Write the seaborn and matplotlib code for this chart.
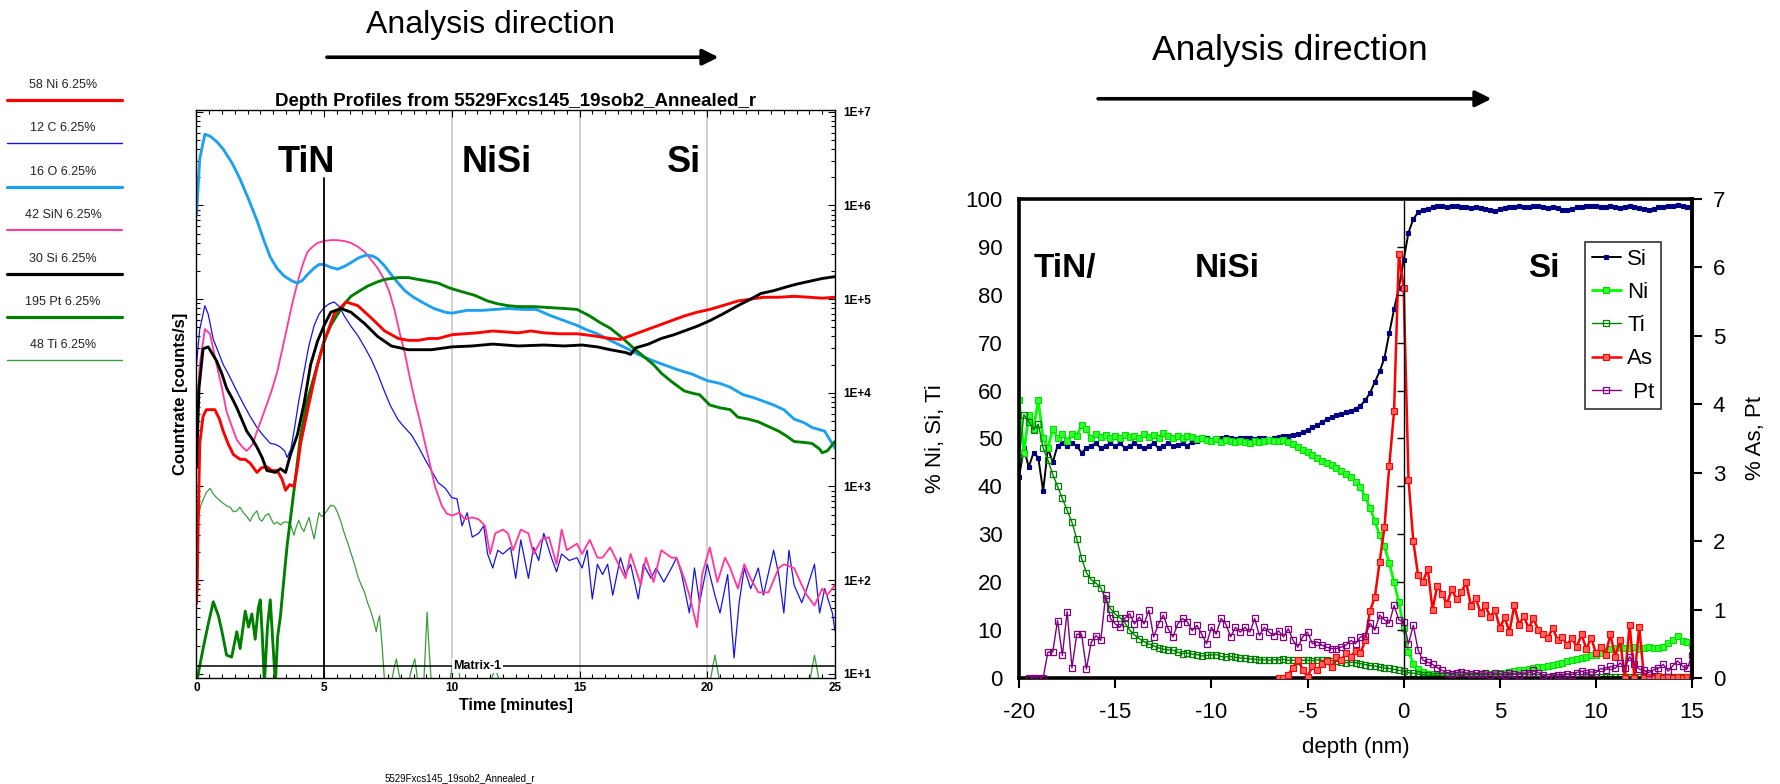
import numpy as np
import matplotlib
matplotlib.use("Agg")
import matplotlib.pyplot as plt
import seaborn as sns
from matplotlib import font_manager
from matplotlib.lines import Line2D
from matplotlib.patches import FancyArrowPatch
from matplotlib.ticker import MultipleLocator, LogLocator, NullFormatter

# ================= LEFT PANEL: SIMS depth profile =================
# time [minutes] and log10(countrate [counts/s])
O_t = [0, 0.13, 0.33, 0.53, 0.8, 1.05, 1.4, 1.71, 2.05, 2.37, 2.65, 2.89, 3.15, 3.42, 3.7,
       3.95, 4.15, 4.34, 4.6, 4.8, 5.0, 5.25, 5.53, 5.8, 6.05, 6.35, 6.64, 6.9, 7.1, 7.35,
       7.63, 7.9, 8.16, 8.5, 8.95, 9.3, 9.74, 10.0, 10.6, 11.2, 11.7, 12.2, 12.8, 13.3, 13.9,
       14.4, 14.9, 15.3, 15.7, 16.2, 16.8, 17.3, 17.8, 18.3, 18.8, 19.4, 20.0, 20.5, 20.9, 21.4,
       21.8, 22.2, 22.6, 23.0, 23.4, 23.8, 24.1, 24.6, 25.0]
O_log = [5.89, 6.5, 6.76, 6.74, 6.68, 6.6, 6.45, 6.28, 6.06, 5.84, 5.62, 5.45, 5.33, 5.25, 5.2,
         5.17, 5.2, 5.26, 5.33, 5.37, 5.37, 5.34, 5.32, 5.35, 5.39, 5.44, 5.47, 5.46, 5.43, 5.36,
         5.26, 5.17, 5.09, 5.02, 4.95, 4.9, 4.86, 4.85, 4.88, 4.88, 4.89, 4.9, 4.89, 4.89, 4.82,
         4.77, 4.72, 4.67, 4.63, 4.56, 4.48, 4.41, 4.35, 4.3, 4.25, 4.2, 4.13, 4.1, 4.06, 3.98,
         3.95, 3.91, 3.87, 3.82, 3.72, 3.68, 3.63, 3.59, 3.41]

Pt_t = [0, 0.26, 0.46, 0.66, 0.86, 1.0, 1.18, 1.38, 1.58, 1.71, 1.91, 2.04, 2.17, 2.3, 2.42,
        2.5, 2.58, 2.66, 2.78, 2.89, 3.0, 3.09, 3.18, 3.29, 3.42, 3.55, 3.82, 4.08, 4.34, 4.74,
        5.0, 5.26, 5.53, 5.8, 6.05, 6.4, 6.71, 7.05, 7.37, 7.9, 8.3, 8.68, 9.1, 9.47, 9.9,
        10.26, 10.9, 11.4, 11.8, 12.2, 12.6, 13.2, 13.8, 14.4, 14.9, 15.4, 15.8, 16.2, 16.7, 17.1,
        17.5, 17.9, 18.2, 18.6, 19.1, 19.5, 19.7, 20.1, 20.5, 20.9, 21.2, 21.6, 22.0, 22.4, 22.8,
        23.1, 23.4, 23.8, 24.1, 24.4, 24.5, 24.7, 25.0]
Pt_log = [0.9, 1.27, 1.53, 1.77, 1.62, 1.45, 1.2, 1.18, 1.45, 1.27, 1.67, 1.5, 1.64, 1.37, 1.7,
          1.79, 1.4, 0.9, 1.5, 1.79, 1.3, 0.9, 1.4, 1.62, 2.0, 2.37, 2.96, 3.55, 3.92, 4.3,
          4.55, 4.72, 4.84, 4.95, 5.03, 5.09, 5.14, 5.18, 5.21, 5.23, 5.23, 5.21, 5.19, 5.17, 5.12,
          5.09, 5.04, 4.98, 4.95, 4.93, 4.92, 4.92, 4.91, 4.9, 4.89, 4.82, 4.75, 4.69, 4.58, 4.48,
          4.39, 4.3, 4.21, 4.12, 4.02, 3.99, 3.98, 3.87, 3.84, 3.82, 3.74, 3.72, 3.69, 3.64, 3.59,
          3.54, 3.48, 3.47, 3.46, 3.4, 3.36, 3.38, 3.48]

Ni_t = [0.0, 0.03, 0.07, 0.13, 0.26, 0.39, 0.72, 0.9, 1.05, 1.25, 1.45, 1.71, 1.9, 2.1, 2.37,
        2.55, 2.76, 2.95, 3.16, 3.35, 3.49, 3.65, 3.82, 3.95, 4.08, 4.34, 4.74, 5.0, 5.39, 5.86,
        6.32, 6.84, 7.37, 7.9, 8.3, 8.68, 9.1, 9.47, 10.0, 10.5, 11.0, 11.6, 12.1, 12.6, 13.1,
        13.6, 14.2, 14.9, 15.5, 16.2, 16.6, 17.0, 17.5, 18.0, 18.5, 19.1, 19.6, 20.1, 20.6, 21.2,
        21.7, 22.2, 22.8, 23.4, 24.0, 24.5, 25.0]
Ni_log = [1.75, 1.95, 2.62, 3.46, 3.75, 3.82, 3.82, 3.72, 3.59, 3.45, 3.34, 3.29, 3.29, 3.25, 3.15,
          3.2, 3.21, 3.17, 3.17, 3.08, 2.96, 3.02, 3.0, 3.2, 3.46, 3.8, 4.3, 4.55, 4.84, 4.97,
          4.93, 4.8, 4.66, 4.58, 4.56, 4.56, 4.58, 4.58, 4.62, 4.63, 4.64, 4.66, 4.65, 4.64, 4.66,
          4.64, 4.63, 4.63, 4.61, 4.58, 4.57, 4.61, 4.66, 4.71, 4.76, 4.82, 4.86, 4.89, 4.93, 4.98,
          5.0, 5.02, 5.02, 5.03, 5.02, 5.01, 5.02]

Si_t = [0.0, 0.03, 0.1, 0.26, 0.46, 0.79, 1.0, 1.18, 1.4, 1.58, 1.8, 1.97, 2.2, 2.37, 2.57,
        2.76, 2.95, 3.09, 3.29, 3.49, 3.68, 3.95, 4.21, 4.47, 4.74, 5.0, 5.26, 5.66, 6.05, 6.58,
        7.1, 7.63, 8.29, 9.21, 10.0, 10.8, 11.6, 12.6, 13.6, 14.4, 15.1, 15.7, 16.2, 16.8, 17.0,
        17.2, 17.7, 18.2, 18.7, 19.1, 19.6, 20.1, 20.6, 21.2, 21.7, 22.1, 22.6, 23.1, 23.5, 24.0,
        24.5, 25.0]
Si_log = [3.2, 3.46, 4.05, 4.47, 4.49, 4.34, 4.2, 4.05, 3.94, 3.84, 3.7, 3.59, 3.5, 3.42, 3.31,
          3.17, 3.16, 3.15, 3.19, 3.15, 3.34, 3.55, 3.88, 4.3, 4.55, 4.72, 4.86, 4.9, 4.86, 4.74,
          4.6, 4.5, 4.46, 4.46, 4.49, 4.5, 4.52, 4.5, 4.51, 4.5, 4.51, 4.49, 4.46, 4.43, 4.41,
          4.48, 4.52, 4.58, 4.62, 4.66, 4.71, 4.77, 4.84, 4.93, 5.0, 5.06, 5.09, 5.13, 5.16, 5.19,
          5.22, 5.24]

C_t = [0.0, 0.13, 0.33, 0.46, 0.66, 0.85, 1.05, 1.25, 1.45, 1.65, 1.84, 2.1, 2.37, 2.6, 2.89,
       3.1, 3.29, 3.45, 3.55, 3.7, 3.82, 4.0, 4.21, 4.4, 4.61, 4.8, 5.0, 5.2, 5.39, 5.6,
       5.79, 6.05, 6.32, 6.6, 6.84, 7.1, 7.37, 7.6, 7.9, 8.15, 8.42, 8.7, 8.95, 9.2, 9.47,
       9.75, 10.0, 10.2, 10.4, 10.6, 10.8, 11.05, 11.25, 11.4, 11.6, 11.8, 12.0, 12.3, 12.5, 12.7,
       13.0, 13.2, 13.4, 13.6, 13.9, 14.1, 14.3, 14.6, 14.9, 15.1, 15.3, 15.5, 15.7, 15.9, 16.1,
       16.3, 16.6, 16.8, 17.0, 17.3, 17.5, 17.8, 18.0, 18.3, 18.6, 18.8, 19.0, 19.3, 19.5, 19.7,
       20.0, 20.3, 20.5, 20.8, 21.05, 21.25, 21.45, 21.7, 22.0, 22.2, 22.6, 22.8, 23.0, 23.2, 23.4,
       23.7, 23.9, 24.2, 24.4, 24.6, 24.9, 25.0]
C_log = [4.3, 4.68, 4.93, 4.84, 4.57, 4.44, 4.3, 4.2, 4.09, 3.98, 3.88, 3.75, 3.63, 3.55, 3.46,
         3.45, 3.42, 3.38, 3.31, 3.4, 3.59, 3.9, 4.22, 4.5, 4.72, 4.84, 4.91, 4.95, 4.97, 4.92,
         4.82, 4.71, 4.61, 4.48, 4.36, 4.2, 4.01, 3.86, 3.71, 3.63, 3.55, 3.42, 3.29, 3.17, 3.04,
         2.98, 2.88, 2.87, 2.58, 2.72, 2.46, 2.5, 2.58, 2.28, 2.13, 2.32, 2.28, 2.35, 2.02, 2.43,
         2.02, 2.35, 2.21, 2.5, 2.24, 2.09, 2.28, 2.21, 2.24, 2.13, 2.32, 1.8, 2.17, 2.06, 2.17,
         1.84, 2.24, 2.06, 2.17, 1.8, 2.17, 2.02, 2.13, 1.98, 2.13, 2.24, 2.06, 1.65, 2.13, 1.76,
         2.17, 1.84, 1.65, 2.06, 1.17, 1.76, 2.13, 1.91, 2.13, 1.84, 2.32, 2.06, 1.65, 2.32, 1.95,
         1.76, 1.91, 2.17, 1.65, 1.91, 1.65, 1.46]

SiN_t = [0.03, 0.13, 0.33, 0.53, 0.79, 1.0, 1.18, 1.4, 1.58, 1.8, 1.97, 2.2, 2.37, 2.55, 2.76,
         2.95, 3.16, 3.35, 3.55, 3.75, 3.95, 4.15, 4.34, 4.55, 4.74, 5.0, 5.26, 5.5, 5.79, 6.05,
         6.32, 6.6, 6.84, 7.1, 7.37, 7.55, 7.76, 7.95, 8.16, 8.35, 8.55, 8.75, 8.95, 9.15, 9.34,
         9.6, 9.8, 10.0, 10.3, 10.5, 10.8, 11.05, 11.3, 11.5, 11.7, 12.0, 12.2, 12.4, 12.7, 13.0,
         13.2, 13.5, 13.8, 14.1, 14.3, 14.5, 14.9, 15.1, 15.4, 15.7, 15.9, 16.2, 16.4, 16.8, 17.0,
         17.4, 17.6, 17.9, 18.2, 18.6, 18.8, 19.1, 19.3, 19.6, 19.8, 20.1, 20.4, 20.7, 20.9, 21.2,
         21.45, 21.7, 22.0, 22.4, 22.8, 23.0, 23.4, 23.7, 23.9, 24.2, 24.5, 24.7, 25.0]
SiN_log = [3.88, 4.3, 4.68, 4.63, 4.3, 4.05, 3.8, 3.63, 3.5, 3.42, 3.38, 3.45, 3.59, 3.72, 3.88,
           4.03, 4.22, 4.45, 4.7, 4.95, 5.17, 5.36, 5.5, 5.56, 5.6, 5.62, 5.63, 5.63, 5.62, 5.6,
           5.56, 5.5, 5.42, 5.33, 5.2, 5.08, 4.88, 4.65, 4.42, 4.17, 3.92, 3.7, 3.46, 3.23, 3.0,
           2.8, 2.71, 2.69, 2.72, 2.65, 2.67, 2.65, 2.58, 2.28, 2.5, 2.54, 2.5, 2.32, 2.54, 2.5,
           2.28, 2.43, 2.46, 2.17, 2.54, 2.32, 2.39, 2.28, 2.43, 2.24, 2.24, 2.35, 2.24, 2.02, 2.28,
           1.95, 2.24, 1.98, 2.32, 2.24, 2.24, 2.02, 1.84, 1.5, 2.06, 2.35, 1.98, 2.24, 2.13, 1.91,
           2.17, 2.02, 1.87, 1.87, 2.13, 2.17, 2.13, 1.95, 1.84, 1.73, 1.91, 1.84, 1.95]

Ti_t = [0.05, 0.15, 0.26, 0.4, 0.53, 0.66, 0.79, 0.92, 1.05, 1.2, 1.32, 1.45, 1.58, 1.7, 1.84,
        1.97, 2.1, 2.23, 2.37, 2.47, 2.57, 2.7, 2.83, 2.93, 3.03, 3.16, 3.29, 3.42, 3.55, 3.68,
        3.82, 3.92, 4.01, 4.11, 4.21, 4.31, 4.41, 4.51, 4.61, 4.7, 4.8, 4.9, 5.0, 5.13, 5.26,
        5.4, 5.53, 5.66, 5.79, 5.92, 6.05, 6.2, 6.32, 6.45, 6.58, 6.7, 6.84, 6.95, 7.04, 7.1,
        7.17, 7.27, 7.37, 7.5, 7.63, 7.73, 7.83, 7.93, 8.03, 8.3, 8.42, 8.55, 8.68, 8.9, 8.97,
        9.03, 9.1, 9.2, 9.9, 10.07, 10.2, 10.35, 11.5, 11.7, 11.9, 20.1, 20.3, 20.5, 24.0, 24.2,
        24.4, 25.0]
Ti_log = [2.6, 2.78, 2.86, 2.94, 2.98, 2.92, 2.88, 2.85, 2.82, 2.79, 2.78, 2.73, 2.74, 2.78, 2.72,
          2.68, 2.63, 2.7, 2.74, 2.65, 2.63, 2.69, 2.71, 2.65, 2.6, 2.62, 2.59, 2.62, 2.62, 2.6,
          2.48, 2.58, 2.64, 2.56, 2.52, 2.6, 2.67, 2.55, 2.44, 2.58, 2.72, 2.68, 2.7, 2.75, 2.8,
          2.79, 2.72, 2.62, 2.5, 2.4, 2.29, 2.16, 2.04, 1.95, 1.87, 1.76, 1.66, 1.55, 1.45, 1.55,
          1.62, 1.3, 0.9, 0.9, 0.9, 1.05, 1.16, 1.0, 0.9, 0.9, 1.05, 1.16, 0.9, 0.9, 1.3,
          1.66, 1.3, 0.9, 0.9, 1.16, 1.16, 0.9, 0.9, 1.06, 0.9, 0.9, 1.2, 0.9, 0.9, 1.2,
          0.9, 0.9]

left_labels = ["58 Ni 6.25%", "12 C 6.25%", "16 O 6.25%", "42 SiN 6.25%",
               "30 Si 6.25%", "195 Pt 6.25%", "48 Ti 6.25%"]
left_colors = ["#FF0000", "#1414E6", "#1EA0F0", "#FF3C9E", "#000000", "#008000", "#3A9E3A"]
left_widths = [2.3, 1.0, 2.3, 1.5, 2.3, 2.3, 1.0]
region_labels_left = ["TiN", "NiSi", "Si"]
region_pos_left = [4.3, 11.75, 19.1]
left_decades = [1, 2, 3, 4, 5, 6, 7]
left_xticks = [0, 5, 10, 15, 20, 25]
matrix_level = 12.2

# ================= RIGHT PANEL: atom-probe composition =================
STEP = 0.25  # nm between successive measured points
Si_start = -20.0
Si_pct = [42, 48, 44, 47, 46, 39, 48, 45,
          48.5, 49, 48.5, 49, 48.5, 47, 48, 48.5,
          49, 48, 48.5, 49, 48.5, 49, 48, 48.5,
          49, 48.5, 48, 48.5, 49, 48, 48.5, 49,
          48.5, 48.7, 49, 48.5, 49.3, 49.5, 49.8, 50,
          49.7, 50.2, 50, 50.3, 50, 49.8, 50.1, 50,
          50, 49.8, 50.1, 50, 49.9, 50.2, 50.4, 50.5,
          50.6, 50.8, 51.0, 51.3, 51.8, 52.3, 52.8, 53.4,
          54.0, 54.4, 54.8, 55.2, 55.5, 55.8, 56.2, 56.8,
          58.0, 59.5, 61.8, 64.0, 66.8, 72.0, 77.0, 81.5,
          87.3, 93.0, 95.8, 97.2, 97.8, 98.0, 98.3, 98.5,
          98.5, 98.4, 98.6, 98.5, 98.3, 98.4, 98.2, 98.3,
          98.1, 98.0, 97.8, 97.5, 97.9, 98.2, 98.3, 98.4,
          98.6, 98.4, 98.3, 98.5, 98.6, 98.4, 98.2, 98.3,
          98.1, 97.8, 97.7, 98.0, 98.3, 98.4, 98.5, 98.6,
          98.5, 98.3, 98.4, 98.5, 98.3, 98.2, 98.4, 98.5,
          98.3, 98.1, 97.9, 97.7, 98.0, 98.3, 98.4, 98.6,
          98.5, 98.7, 98.5, 98.3, 98.4]
Ni_start = -20.0
Ni_pct = [58, 47, 55, 52, 58, 50, 48, 52,
          50, 51, 49.5, 51, 50.5, 52.8, 52, 50,
          51, 50.3, 50.8, 50, 50.5, 50.2, 50.8, 50.3,
          50.6, 50, 51, 50.4, 50.8, 50.2, 51.2, 50.5,
          50.2, 50.6, 50, 50.5, 50.3, 49.8, 50.2, 49.7,
          49.5, 49.8, 49.3, 49.6, 49.4, 49.2, 49.5, 49.3,
          49.1, 49.4, 49.3, 49.5, 49.6, 49.4, 49.5, 49.7,
          49.2, 48.8, 48.3, 47.7, 47.2, 46.6, 46.0, 45.4,
          44.9, 44.4, 43.9, 43.3, 42.6, 41.9, 41.0, 39.8,
          37.8, 35.5, 32.8, 29.8, 27.5, 24.0, 20.0, 15.8,
          10.5, 5.5, 3.0, 1.8, 1.2, 0.9, 0.8, 0.7,
          0.6, 0.6, 0.6, 0.6, 0.6, 0.7, 0.6, 0.7,
          0.7, 0.8, 0.8, 0.9, 1.0, 1.1, 1.3, 1.5,
          1.6, 1.7, 1.9, 2.0, 2.2, 2.4, 2.6, 2.8,
          3.0, 3.2, 3.5, 3.8, 4.0, 4.2, 4.4, 4.7,
          4.9, 5.3, 5.7, 6.0, 6.2, 6.4, 6.3, 6.2,
          6.4, 6.1, 6.3, 6.5, 6.3, 6.2, 6.5, 7.4,
          8.0, 8.8, 7.8, 7.5, 6.8]
Ti_start = -20.0
Ti_pct = [46, 55, 53.5, 51.8, 53, 48, 45.5, 42.5,
          40, 37.5, 35, 32.5, 29, 25, 22, 20.5,
          19.8, 18.8, 16.5, 14.5, 13.3, 12.6, 11.5, 10.0,
          9.0, 8.2, 7.6, 7.1, 6.7, 6.3, 6.0, 5.9,
          5.8, 5.4, 5.1, 5.2, 5.0, 4.9, 4.6, 4.7,
          4.8, 4.9, 4.5, 4.4, 4.5, 4.3, 4.2, 4.1,
          4.0, 3.9, 3.8, 3.8, 3.7, 3.8, 3.8, 3.9,
          3.7, 3.7, 3.6, 3.7, 3.7, 3.6, 3.8, 3.7,
          3.7, 3.6, 3.5, 3.4, 3.2, 3.3, 3.2, 3.0,
          2.8, 2.6, 2.5, 2.3, 2.1, 2.0, 1.8, 1.6,
          1.4, 1.1, 1.0, 0.8, 0.7, 0.6, 0.5, 0.5,
          0.4, 0.4, 0.3, 0.3, 0.3, 0.2, 0.2, 0.3,
          0.2, 0.2, 0.2, 0.3, 0.2, 0.2, 0.2, 0.2,
          0.3, 0.2, 0.2, 0.2, 0.3, 0.2, 0.2, 0.2,
          0.2, 0.3, 0.2, 0.2, 0.2, 0.2, 0.3, 0.2,
          0.2, 0.2, 0.3, 0.2, 0.2, 0.2, 0.2, 0.3,
          0.2, 0.2, 0.2, 0.3, 0.2, 0.2, 0.2, 0.2,
          0.3, 0.2, 0.2, 0.2, 0.2]
As_start = -6.5
As_pct = [0.0, 0.0, 0.05, 0.15, 0.27, 0.12, 0.02, 0.17,
          0.11, 0.21, 0.25, 0.16, 0.3, 0.26, 0.36, 0.31,
          0.4, 0.36, 0.55, 0.98, 1.18, 1.7, 2.2, 3.1,
          3.9, 6.2, 5.7, 2.9, 2.0, 1.5, 1.4, 1.6,
          1.0, 1.35, 1.23, 1.08, 1.3, 1.15, 1.25, 1.4,
          1.05, 1.17, 0.95, 1.06, 0.89, 1.0, 0.73, 0.89,
          0.67, 1.06, 0.78, 0.9, 0.73, 0.87, 0.7, 0.64,
          0.59, 0.73, 0.56, 0.6, 0.48, 0.59, 0.45, 0.64,
          0.42, 0.59, 0.36, 0.45, 0.34, 0.64, 0.31, 0.56,
          0.0, 0.78, 0.0, 0.75, 0.0, 0.02, 0.0, 0.03,
          0.0, 0.02, 0.0, 0.01, 0.0, 0.02, 0.0]
Pt_start = -19.5
Pt_pct = [0, 0, 0, 0, 0.38, 0.38, 0.84, 0.33,
          0.97, 0.15, 0.64, 0.64, 0.13, 0.52, 0.62, 0.55,
          1.21, 0.87, 0.79, 0.74, 0.87, 0.94, 0.79, 0.89,
          0.79, 0.99, 0.6, 0.79, 0.92, 0.72, 0.6, 0.79,
          0.87, 0.82, 0.69, 0.77, 0.64, 0.5, 0.74, 0.64,
          0.87, 0.79, 0.6, 0.74, 0.67, 0.74, 0.67, 0.87,
          0.62, 0.74, 0.67, 0.62, 0.69, 0.6, 0.72, 0.55,
          0.45, 0.6, 0.67, 0.5, 0.53, 0.48, 0.45, 0.43,
          0.43, 0.45, 0.48, 0.55, 0.5, 0.6, 0.62, 0.8,
          0.7, 0.92, 0.85, 0.8, 1.06, 0.85, 0.82, 0.5,
          0.77, 0.41, 0.26, 0.23, 0.2, 0.15, 0.11, 0.08,
          0.06, 0.08, 0.09, 0.07, 0.06, 0.07, 0.06, 0.07,
          0.05, 0.07, 0.06, 0.05, 0.07, 0.06, 0.05, 0.07,
          0.08, 0.11, 0.08, 0.04, 0.02, 0.03, 0.05, 0.04,
          0.06, 0.05, 0.08, 0.1, 0.07, 0.09, 0.08, 0.14,
          0.12, 0.17, 0.14, 0.22, 0.15, 0.31, 0.2, 0.13,
          0.11, 0.08, 0.12, 0.14, 0.2, 0.1, 0.18, 0.25,
          0.17, 0.14, 0.34]
right_legend_labels = ["Si", "Ni", "Ti", "As", " Pt"]
region_labels_right = ["TiN/", "NiSi", "Si"]
region_x_right = [-17.6, -9.2, 7.3]
region_y_right = 85.5
right_xticks = [-20, -15, -10, -5, 0, 5, 10, 15]
right_left_ticks = list(range(0, 101, 10))
right_right_ticks = list(range(0, 8))

# ================= styling =================
sns.set_theme(style="white", rc={"axes.edgecolor": "black", "text.color": "black",
                                 "axes.labelcolor": "black", "xtick.color": "black",
                                 "ytick.color": "black"})
names = {f.name for f in font_manager.fontManager.ttflist}
SANS = "Liberation Sans" if "Liberation Sans" in names else "DejaVu Sans"
plt.rcParams["font.family"] = [SANS, "DejaVu Sans"]

fig = plt.figure(figsize=(17.81, 7.84), dpi=100)
fig.patch.set_facecolor("white")


def draw(ax, x, y, **kw):
    n = min(len(x), len(y))
    sns.lineplot(x=np.asarray(x[:n], float), y=np.asarray(y[:n], float), ax=ax,
                 estimator=None, sort=False, errorbar=None, legend=False, **kw)
    return ax.lines[-1]


# ---------------- left panel ----------------
axL = fig.add_axes([0.1103, 0.135, 0.3585, 0.725])
axL.set_yscale("log")
series_left = [(Ti_t, Ti_log, 6), (C_t, C_log, 1), (SiN_t, SiN_log, 3), (O_t, O_log, 2),
               (Pt_t, Pt_log, 5), (Ni_t, Ni_log, 0), (Si_t, Si_log, 4)]
for t, lg, idx in series_left:
    draw(axL, t, 10.0 ** np.asarray(lg), color=left_colors[idx], linewidth=left_widths[idx] * 0.9)

axL.set_xticks(left_xticks, labels=[str(v) for v in left_xticks], fontsize=8.5, fontweight="bold")
axL.set_yticks([10.0 ** d for d in left_decades], labels=[f"1E+{d}" for d in left_decades],
               fontsize=8.5, fontweight="bold")
axL.yaxis.set_minor_locator(LogLocator(base=10, subs=np.arange(2, 10) * 1.0, numticks=30))
axL.yaxis.set_minor_formatter(NullFormatter())
axL.xaxis.set_minor_locator(MultipleLocator(0.5))
axL.set_xlim(0, 25)
axL.set_ylim(9.0, 1.05e7)
axL.tick_params(which="both", direction="in", top=True, bottom=True, left=True, right=True,
                width=0.8)
axL.tick_params(which="major", length=5)
axL.tick_params(which="minor", length=3)
axL.tick_params(axis="y", labelleft=False, labelright=True, pad=6)
axL.tick_params(axis="x", pad=3)
for sp in axL.spines.values():
    sp.set_linewidth(1.0)
    sp.set_color("black")

for gx in left_xticks[2:5]:
    axL.axvline(gx, color="#c8c8c8", lw=1.2, zorder=0.5)
axL.axvline(left_xticks[1], ymax=0.88, color="black", lw=1.3, zorder=3)
axL.axhline(matrix_level, color="black", lw=1.1, zorder=3)
axL.text(11.0, matrix_level, "Matrix-1", ha="center", va="center", fontsize=9, fontweight="bold",
         bbox=dict(facecolor="white", edgecolor="none", pad=1.0), zorder=4)
for lab, xpos in zip(region_labels_left, region_pos_left):
    axL.text(xpos, 0.908, lab, transform=axL.get_xaxis_transform(), ha="center", va="center",
             fontsize=26, fontweight="bold", zorder=5)

axL.set_title("Depth Profiles from 5529Fxcs145_19sob2_Annealed_r", fontsize=13.5,
              fontweight="bold", pad=3)
axL.set_xlabel("Time [minutes]", fontsize=11.5, fontweight="bold", labelpad=3)
axL.set_ylabel("Countrate [counts/s]", fontsize=12, fontweight="bold", labelpad=3)

# left-hand legend column
for i, (lab, col, lw) in enumerate(zip(left_labels, left_colors, left_widths)):
    yt = 1 - (85 + 43.4 * i) / 784
    yl = 1 - (100 + 43.4 * i) / 784
    fig.text(63 / 1781, yt, lab, ha="center", va="center", fontsize=9, color="#222222")
    fig.add_artist(Line2D([7 / 1781, 122 / 1781], [yl, yl], color=col, lw=lw,
                          transform=fig.transFigure))

fig.text(0.258, 1 - 778 / 784, "5529Fxcs145_19sob2_Annealed_r", ha="center", va="center",
         fontsize=7)

# ---------------- right panel ----------------
axR = fig.add_axes([0.5722, 0.1352, 0.3779, 0.6110])
axR2 = axR.twinx()


def grid(start, vals):
    return start + STEP * np.arange(len(vals))


hSi = draw(axR, grid(Si_start, Si_pct), Si_pct, color="black", linewidth=1.4, marker="s",
           markersize=3.2, markerfacecolor="#000080", markeredgecolor="#000080",
           markeredgewidth=0.8)
hNi = draw(axR, grid(Ni_start, Ni_pct), Ni_pct, color="#00FF00", linewidth=2.0, marker="s",
           markersize=3.8, markerfacecolor="#33FF33", markeredgecolor="#00E000",
           markeredgewidth=0.8)
hTi = draw(axR, grid(Ti_start, Ti_pct), Ti_pct, color="#008000", linewidth=1.0, marker="s",
           markersize=4.5, markerfacecolor="none", markeredgecolor="#008000",
           markeredgewidth=0.9)
hAs = draw(axR2, grid(As_start, As_pct), As_pct, color="#FF0000", linewidth=1.8, marker="s",
           markersize=3.8, markerfacecolor="#FF6060", markeredgecolor="#FF0000",
           markeredgewidth=0.8)
hPt = draw(axR2, grid(Pt_start, Pt_pct), Pt_pct, color="#800080", linewidth=1.0, marker="s",
           markersize=4.2, markerfacecolor="none", markeredgecolor="#800080",
           markeredgewidth=0.9)

axR.set_xticks(right_xticks, labels=[str(v) for v in right_xticks], fontsize=16)
axR.set_yticks(right_left_ticks, labels=[str(v) for v in right_left_ticks], fontsize=16)
axR2.set_yticks(right_right_ticks, labels=[str(v) for v in right_right_ticks], fontsize=16)
axR.set_xlim(-20, 15)
axR.set_ylim(0, 100)
axR2.set_ylim(0, 7)
axR.tick_params(axis="x", direction="out", length=7, width=1.5, pad=10, bottom=True)
axR.tick_params(axis="y", length=0, pad=12, left=True)
axR2.tick_params(axis="y", direction="out", length=7, width=1.5, pad=8, right=True)
for sp in axR.spines.values():
    sp.set_linewidth(2.6)
    sp.set_color("black")
for k in ["top", "left", "bottom"]:
    axR2.spines[k].set_visible(False)
axR2.spines["right"].set_linewidth(2.6)
axR2.spines["right"].set_color("black")

axR.set_xlabel("depth (nm)", fontsize=16, labelpad=10)
axR.set_ylabel("% Ni, Si, Ti", fontsize=16, labelpad=14)
axR2.set_ylabel("% As, Pt", fontsize=16, labelpad=14)

for lab, xpos in zip(region_labels_right, region_x_right):
    axR.text(xpos, region_y_right, lab, ha="center", va="center", fontsize=24,
             fontweight="bold", zorder=6)

# interface axis at depth 0 (thin line with ticks pointing left)
axZ = axR.twinx()
axZ.set_ylim(0, 100)
for k in ["top", "right", "bottom"]:
    axZ.spines[k].set_visible(False)
axZ.spines["left"].set_visible(True)
axZ.spines["left"].set_position(("data", 0))
axZ.spines["left"].set_linewidth(1.0)
axZ.spines["left"].set_color("black")
axZ.yaxis.set_ticks_position("left")
axZ.set_yticks(right_left_ticks)
axZ.tick_params(axis="y", direction="out", length=5, width=1.0, labelleft=False,
                labelright=False, left=True, right=False)

leg = axZ.legend([hSi, hNi, hTi, hAs, hPt], right_legend_labels, loc="upper left",
                 bbox_to_anchor=(0.841, 0.91), fontsize=16, frameon=True, fancybox=False,
                 edgecolor="#333333", framealpha=1, handlelength=1.3, handletextpad=0.3,
                 labelspacing=0.55, borderpad=0.3, borderaxespad=0)
leg.get_frame().set_linewidth(1.2)

# ---------------- analysis direction annotations ----------------
fig.text(0.2755, 0.968, "Analysis direction", ha="center", va="center", fontsize=23)
fig.add_artist(FancyArrowPatch((0.182, 0.927), (0.405, 0.927), transform=fig.transFigure,
                               arrowstyle="-|>", mutation_scale=24, lw=2.6, color="black"))
fig.text(0.724, 0.935, "Analysis direction", ha="center", va="center", fontsize=25.5)
fig.add_artist(FancyArrowPatch((0.615, 0.874), (0.839, 0.874), transform=fig.transFigure,
                               arrowstyle="-|>", mutation_scale=24, lw=2.6, color="black"))

fig.savefig("out.png", dpi=100, facecolor="white")
